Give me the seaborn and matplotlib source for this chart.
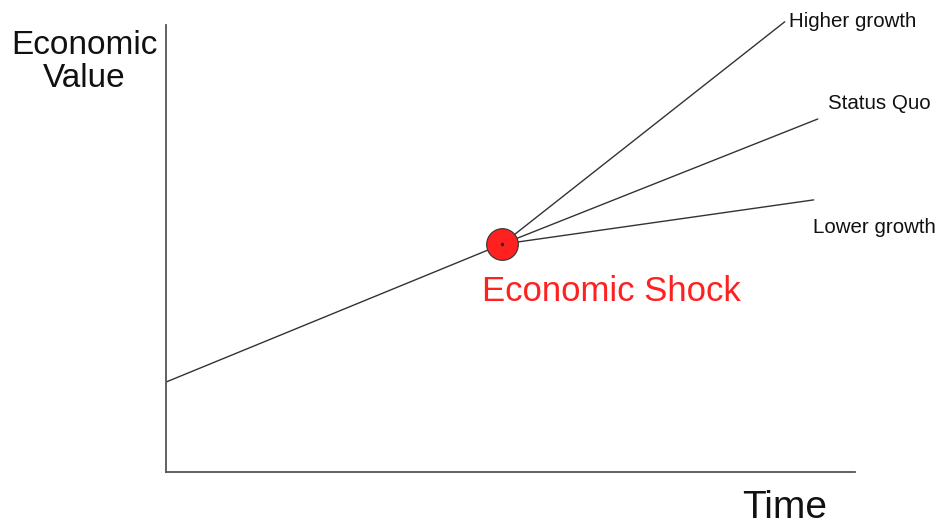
import pandas as pd
import matplotlib.pyplot as plt
import seaborn as sns

# Schematic values (time and economic value in arbitrary units)
base_time = [0.0, 4.88]
base_value = [1.99, 5.04]

scenarios = ['Higher growth', 'Status Quo', 'Lower growth']
end_time = [8.98, 9.46, 9.40]
end_value = [9.96, 7.81, 6.02]

shock_time = base_time[-1]
shock_value = base_value[-1]

# Build one long table: the baseline plus each branch starting at the shock
rows = [{'time': t, 'value': v, 'path': 'baseline'} for t, v in zip(base_time, base_value)]
for name, t, v in zip(scenarios, end_time, end_value):
    rows.append({'time': shock_time, 'value': shock_value, 'path': name})
    rows.append({'time': t, 'value': v, 'path': name})
paths = pd.DataFrame(rows)

sns.set_style('white')
plt.rcParams['font.family'] = ['Liberation Sans', 'DejaVu Sans']

fig = plt.figure(figsize=(9.49, 5.25), dpi=100)
ax = fig.add_axes([166 / 949, 53 / 525, 689 / 949, 452 / 525])

sns.lineplot(data=paths, x='time', y='value', units='path', estimator=None,
             color='#333333', linewidth=1.0, sort=False, ax=ax)

# Shock marker
sns.scatterplot(x=[shock_time], y=[shock_value], s=520, color='#ff2020',
                edgecolor='#333333', linewidth=0.8, zorder=5, ax=ax)
ax.scatter([shock_time], [shock_value], s=2, color='#222222', zorder=6)

# Branch labels
label_offsets = {'Higher growth': (0.06, 0.0),
                 'Status Quo': (0.15, 0.35),
                 'Lower growth': (-0.01, -0.62)}
for name, t, v in zip(scenarios, end_time, end_value):
    dx, dy = label_offsets[name]
    ax.text(t + dx, v + dy, name, fontsize=14.8, ha='left', va='center', color='#111111')

ax.text(6.46, 4.0, 'Economic Shock', fontsize=25, color='#ff2020',
        ha='center', va='center')

ax.set_xlim(0, 10)
ax.set_ylim(0, 10)
ax.set_xticks([])
ax.set_yticks([])
ax.set_xlabel('')
ax.set_ylabel('')
for side in ['top', 'right']:
    ax.spines[side].set_visible(False)
for side in ['left', 'bottom']:
    ax.spines[side].set_color('#555555')
    ax.spines[side].set_linewidth(1.3)
ax.spines['left'].set_bounds(0, 9.89)

fig.text(84 / 949, 1 - 62 / 525, 'Economic\nValue', fontsize=24, ha='center',
         va='center', linespacing=1.1, color='#111111')
fig.text(785 / 949, 1 - 508 / 525, 'Time', fontsize=28, ha='center',
         va='center', color='#111111')

fig.savefig('out.png', dpi=100)
